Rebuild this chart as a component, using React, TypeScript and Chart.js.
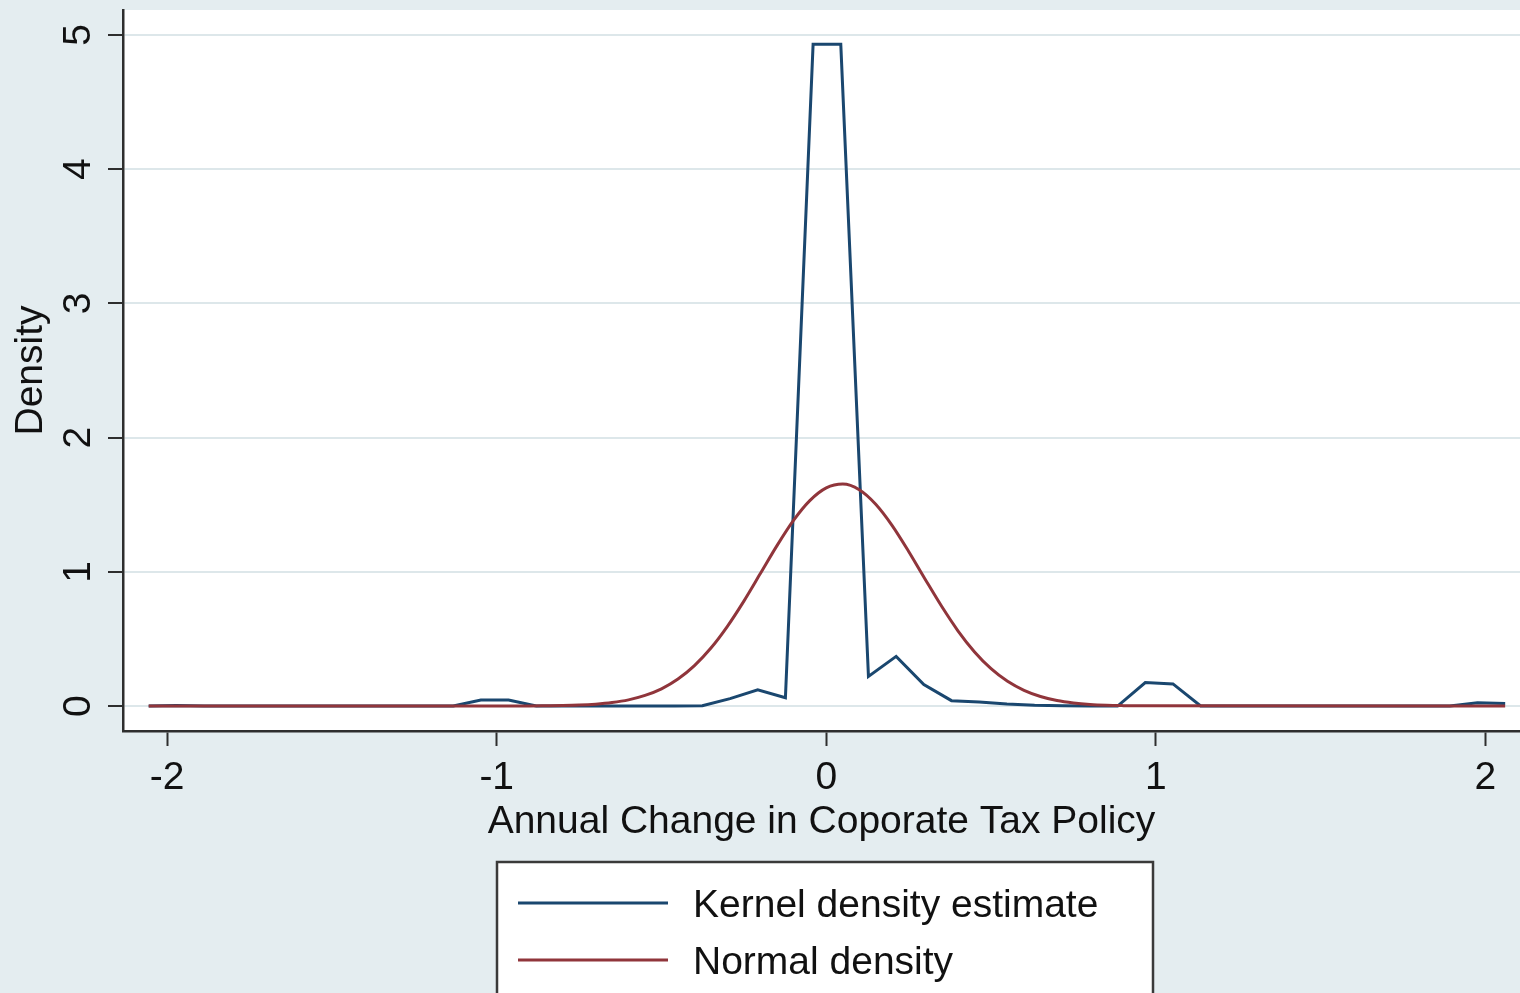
import React, { useEffect, useRef } from "react";
import { Chart, registerables } from "chart.js";

Chart.register(...registerables);

// ---- Data ----
const xTickValues = [-2, -1, 0, 1, 2];
const yTickValues = [0, 1, 2, 3, 4, 5];
const xTitle = "Annual Change in Coporate Tax Policy";
const yTitle = "Density";
const seriesLabels = ["Kernel density estimate", "Normal density"];

const kdeX = [
  -2.056, -1.972, -1.888, -1.804, -1.72, -1.636, -1.552, -1.468, -1.384, -1.3,
  -1.216, -1.132, -1.048, -0.964, -0.88, -0.796, -0.712, -0.628, -0.544, -0.46,
  -0.376, -0.292, -0.208, -0.124, -0.04, 0.044, 0.128, 0.212, 0.296, 0.38,
  0.464, 0.548, 0.632, 0.716, 0.8, 0.884, 0.968, 1.052, 1.136, 1.22,
  1.304, 1.388, 1.472, 1.556, 1.64, 1.724, 1.808, 1.892, 1.976, 2.06,
];
const kdeY = [
  0.0, 0.004, 0.0, 0.0, 0.0, 0.0, 0.0, 0.0, 0.0, 0.0,
  0.0, 0.0, 0.045, 0.045, 0.0, 0.0, 0.0, 0.0, 0.0, 0.0,
  0.002, 0.055, 0.12, 0.062, 4.93, 4.93, 0.22, 0.37, 0.16, 0.04,
  0.03, 0.015, 0.006, 0.002, 0.0, 0.0, 0.175, 0.165, 0.0, 0.0,
  0.0, 0.0, 0.0, 0.0, 0.0, 0.0, 0.0, 0.0, 0.025, 0.018,
];

const normX = [
  -2.056, -0.9, -0.85, -0.8, -0.75, -0.7, -0.65, -0.6, -0.55, -0.5,
  -0.45, -0.4, -0.35, -0.3, -0.25, -0.2, -0.15, -0.1, -0.05, 0.0,
  0.05, 0.1, 0.15, 0.2, 0.25, 0.3, 0.35, 0.4, 0.45, 0.5,
  0.55, 0.6, 0.65, 0.7, 0.75, 0.8, 0.85, 0.9, 0.95, 2.06,
];
const normY = [
  0.0, 0.001, 0.002, 0.0035, 0.007, 0.014, 0.026, 0.046, 0.079, 0.128,
  0.201, 0.301, 0.432, 0.594, 0.782, 0.987, 1.193, 1.381, 1.53, 1.625,
  1.654, 1.612, 1.504, 1.345, 1.152, 0.945, 0.743, 0.559, 0.403, 0.278,
  0.184, 0.117, 0.071, 0.041, 0.023, 0.012, 0.006, 0.003, 0.0014, 0.0,
];

// ---- Styles ----
const FONT = '"Liberation Sans", Arial, Helvetica, sans-serif';
const FONT_SIZE = 39;
const BG = "#e4edf0";
const GRID = "#dde7ea";
const AXIS = "#2e2e2e";
const TEXT = "#111111";
const BLUE = "#1a476f";
const RED = "#90353b";

export default function App() {
  const canvasRef = useRef<HTMLCanvasElement | null>(null);

  useEffect(() => {
    const canvas = canvasRef.current;
    if (!canvas) return;

    const bgPlugin = {
      id: "bgPlugin",
      beforeDraw(chart: any) {
        const { ctx, chartArea } = chart;
        ctx.save();
        ctx.fillStyle = BG;
        ctx.fillRect(0, 0, chart.width, chart.height);
        ctx.fillStyle = "#ffffff";
        ctx.fillRect(chartArea.left, chartArea.top, chartArea.right - chartArea.left, chartArea.bottom - chartArea.top);
        ctx.restore();
      },
    };

    const yLabelPlugin = {
      id: "yLabelPlugin",
      afterDraw(chart: any) {
        const { ctx } = chart;
        const ys = chart.scales.y;
        ctx.save();
        ctx.fillStyle = TEXT;
        ctx.font = `${FONT_SIZE}px ${FONT}`;
        ctx.textAlign = "center";
        ctx.textBaseline = "alphabetic";
        ys.ticks.forEach((t: any) => {
          const py = ys.getPixelForValue(t.value);
          ctx.save();
          ctx.translate(ys.right - 33, py);
          ctx.rotate(-Math.PI / 2);
          ctx.fillText(String(t.value), 0, 0);
          ctx.restore();
        });
        ctx.restore();
      },
    };

    const legendPlugin = {
      id: "boxLegend",
      afterDraw(chart: any) {
        const { ctx } = chart;
        const boxL = 497, boxT = 862, boxW = 656, boxH = 160;
        ctx.save();
        ctx.fillStyle = "#ffffff";
        ctx.fillRect(boxL, boxT, boxW, boxH);
        ctx.strokeStyle = "#3a3a3a";
        ctx.lineWidth = 2.5;
        ctx.strokeRect(boxL, boxT, boxW, boxH);
        ctx.font = `${FONT_SIZE}px ${FONT}`;
        ctx.textAlign = "left";
        ctx.textBaseline = "middle";
        chart.data.datasets.forEach((ds: any, i: number) => {
          const y = boxT + 41 + i * 57;
          ctx.strokeStyle = ds.borderColor;
          ctx.lineWidth = 3;
          ctx.beginPath();
          ctx.moveTo(boxL + 21, y);
          ctx.lineTo(boxL + 171, y);
          ctx.stroke();
          ctx.fillStyle = TEXT;
          ctx.fillText(ds.label, boxL + 196, y + 3);
        });
        ctx.restore();
      },
    };

    const chart = new Chart(canvas, {
      type: "scatter",
      data: {
        datasets: [
          {
            label: seriesLabels[0],
            data: kdeX.map((x, i) => ({ x, y: kdeY[i] })),
            showLine: true,
            borderColor: BLUE,
            backgroundColor: BLUE,
            borderWidth: 3,
            pointRadius: 0,
            tension: 0,
            order: 2,
          },
          {
            label: seriesLabels[1],
            data: normX.map((x, i) => ({ x, y: normY[i] })),
            showLine: true,
            borderColor: RED,
            backgroundColor: RED,
            borderWidth: 3,
            pointRadius: 0,
            tension: 0.3,
            cubicInterpolationMode: "monotone",
            order: 1,
          },
        ],
      },
      options: {
        responsive: false,
        devicePixelRatio: 1,
        animation: false,
        events: [],
        layout: { padding: { top: 10, right: 0, left: 0, bottom: 0 } },
        plugins: {
          legend: { display: false },
          tooltip: { enabled: false },
          title: { display: false },
        },
        scales: {
          x: {
            type: "linear",
            min: -2.134,
            max: 2.105,
            afterBuildTicks: (scale: any) => {
              scale.ticks = xTickValues.map((v) => ({ value: v }));
            },
            afterFit: (scale: any) => {
              scale.height = 262;
            },
            grid: {
              drawOnChartArea: false,
              drawTicks: true,
              tickLength: 15,
              tickColor: AXIS,
              tickWidth: 2,
            },
            border: { display: true, color: AXIS, width: 2.5 },
            ticks: {
              color: TEXT,
              padding: 9,
              font: { family: FONT, size: FONT_SIZE },
              maxRotation: 0,
              minRotation: 0,
              autoSkip: false,
              callback: (v: any) => String(v),
            },
            title: {
              display: true,
              text: xTitle,
              color: TEXT,
              font: { family: FONT, size: FONT_SIZE },
              padding: { top: 0, bottom: 147 },
            },
          },
          y: {
            type: "linear",
            min: -0.186,
            max: 5.186,
            afterBuildTicks: (scale: any) => {
              scale.ticks = yTickValues.map((v) => ({ value: v }));
            },
            afterFit: (scale: any) => {
              scale.width = 123;
            },
            grid: {
              drawOnChartArea: true,
              color: GRID,
              lineWidth: 2,
              drawTicks: true,
              tickLength: 15,
              tickColor: AXIS,
              tickWidth: 2,
            },
            border: { display: true, color: AXIS, width: 2.5 },
            ticks: { display: false },
            title: {
              display: true,
              text: yTitle,
              color: TEXT,
              font: { family: FONT, size: FONT_SIZE },
              padding: { top: 8, bottom: 0 },
            },
          },
        },
      },
      plugins: [bgPlugin, yLabelPlugin, legendPlugin],
    } as any);

    return () => {
      chart.destroy();
    };
  }, []);

  return (
    <div style={{ position: "absolute", left: 0, top: 0, width: 1520, height: 993, background: BG, overflow: "hidden" }}>
      <canvas ref={canvasRef} width={1520} height={993} style={{ display: "block" }} />
    </div>
  );
}
